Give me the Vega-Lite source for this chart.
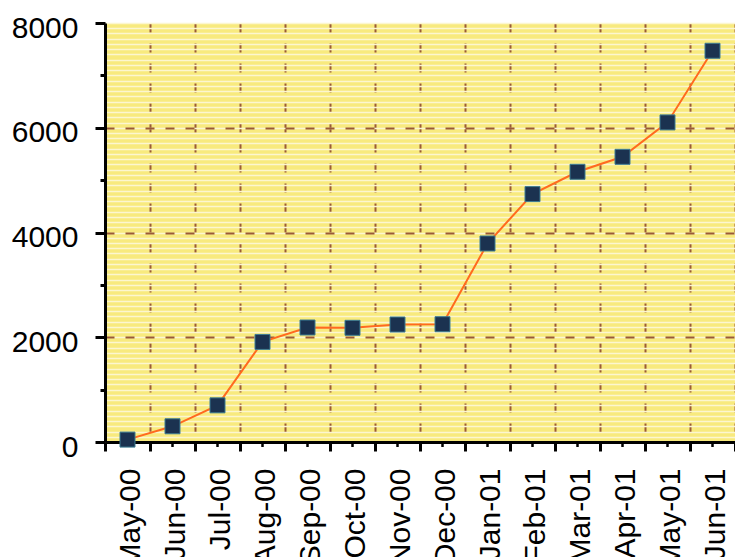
{
  "$schema": "https://vega.github.io/schema/vega-lite/v6.json",
  "autosize": {"type": "none"},
  "width": 630,
  "height": 419,
  "padding": {"left": 105, "top": 23, "right": 0, "bottom": 115},
  "background": "#ffffff",
  "config": {
    "view": {"fill": "#f8ea7e", "stroke": null},
    "font": "Liberation Sans"
  },
  "data": {
    "values": [
      {"month": "May-00", "value": 46},
      {"month": "Jun-00", "value": 300},
      {"month": "Jul-00", "value": 700},
      {"month": "Aug-00", "value": 1911},
      {"month": "Sep-00", "value": 2186},
      {"month": "Oct-00", "value": 2180},
      {"month": "Nov-00", "value": 2243},
      {"month": "Dec-00", "value": 2249},
      {"month": "Jan-01", "value": 3790},
      {"month": "Feb-01", "value": 4733},
      {"month": "Mar-01", "value": 5159},
      {"month": "Apr-01", "value": 5445},
      {"month": "May-01", "value": 6102},
      {"month": "Jun-01", "value": 7470}
    ]
  },
  "layer": [
    {
      "mark": {"type": "line", "color": "#ff6a1f", "strokeWidth": 2},
      "encoding": {
        "x": {
          "field": "month", "type": "nominal", "sort": null,
          "scale": {"type": "band", "paddingInner": 0, "paddingOuter": 0},
          "axis": {
            "title": null,
            "tickBand": "extent",
            "grid": true,
            "gridColor": "#9a5a36",
            "gridWidth": 2,
            "gridDash": [9, 11],
            "domainColor": "#000000",
            "domainWidth": 3,
            "tickColor": "#000000",
            "tickWidth": 3,
            "tickSize": 9,
            "labelAngle": -90,
            "labelAlign": "right",
            "labelBaseline": "middle",
            "labelFont": "Liberation Sans",
            "labelFontSize": 30,
            "labelColor": "#000000",
            "labelPadding": 17,
            "labelOffset": 3,
            "labelOverlap": false,
            "labelBound": false,
            "labelFlush": false
          }
        },
        "y": {
          "field": "value", "type": "quantitative",
          "scale": {"domain": [0, 8000], "nice": false},
          "axis": {
            "orient": "right",
            "title": null,
            "grid": true,
            "tickCount": 80,
            "gridColor": "#fcf6d0",
            "gridWidth": 1.6,
            "domain": false,
            "ticks": false,
            "labels": false
          }
        }
      }
    },
    {
      "mark": {"type": "rule", "color": "#000000", "strokeWidth": 2.5},
      "encoding": {
        "x": {"field": "month", "type": "nominal", "sort": null},
        "y": {"datum": 0, "type": "quantitative", "axis": null},
        "y2": {"datum": -95}
      }
    },
    {
      "mark": {"type": "point", "shape": "square", "filled": true, "size": 225, "color": "#1b3250", "stroke": "#3d7c93", "strokeWidth": 1, "opacity": 1},
      "encoding": {
        "x": {"field": "month", "type": "nominal", "sort": null},
        "y": {
          "field": "value", "type": "quantitative",
          "axis": {
            "orient": "left",
            "title": null,
            "values": [0, 1000, 2000, 3000, 4000, 5000, 6000, 7000, 8000],
            "labelExpr": "datum.value % 2000 === 0 ? datum.label : ''",
            "format": "d",
            "grid": true,
            "gridColor": "#9a5a36",
            "gridWidth": 2,
            "gridDash": [9, 11],
            "gridOpacity": {"condition": {"test": "datum.value % 2000 === 0 && datum.value > 0 && datum.value < 8000", "value": 1}, "value": 0},
            "domainColor": "#000000",
            "domainWidth": 3,
            "tickColor": "#000000",
            "tickWidth": 3,
            "tickSize": {"condition": {"test": "datum.value % 2000 === 0", "value": 10}, "value": 5},
            "labelFont": "Liberation Sans",
            "labelFontSize": 30,
            "labelColor": "#000000",
            "labelPadding": 17,
            "labelBaseline": "middle",
            "labelOffset": 5,
            "labelBound": false,
            "labelFlush": false,
            "labelOverlap": false
          }
        }
      }
    }
  ],
  "resolve": {"axis": {"y": "independent"}}
}
